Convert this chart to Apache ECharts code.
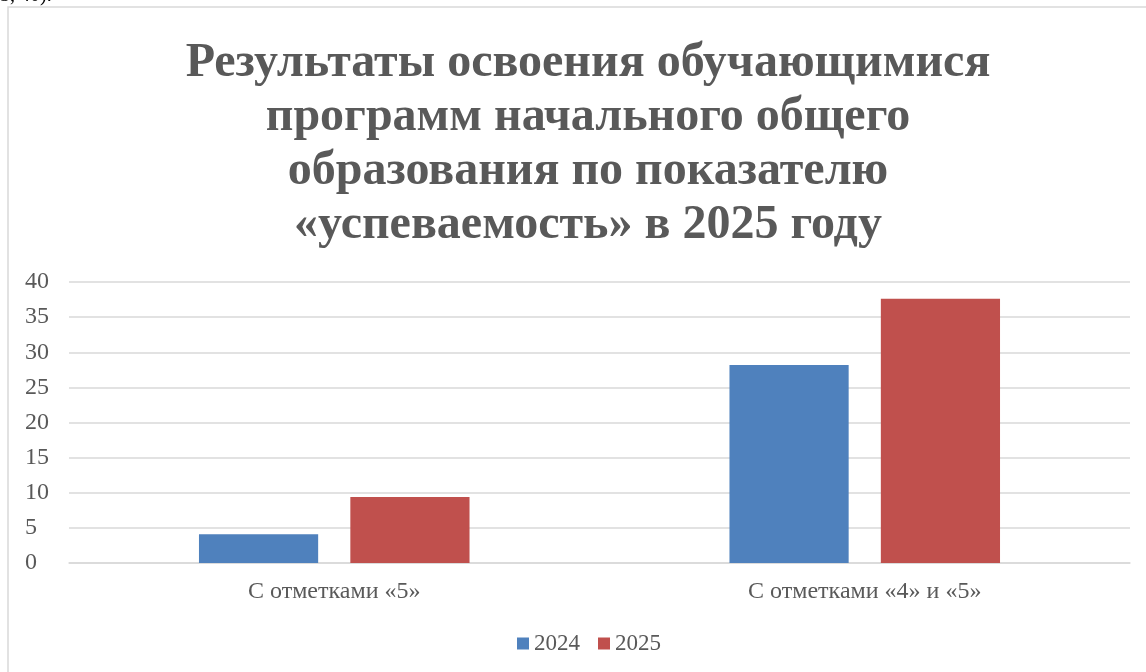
<!DOCTYPE html>
<html>
<head>
<meta charset="utf-8">
<script src="https://cdn.jsdelivr.net/npm/echarts@6/dist/echarts.min.js"></script>
<style>
  html, body { margin: 0; padding: 0; background: #fff; }
  #chart { width: 1146px; height: 672px; }
</style>
</head>
<body>
<div id="chart"></div>
<script>
// данные диаграммы
const categories = ['С отметками «5»', 'С отметками «4» и «5»'];
const seriesNames = ['2024', '2025'];
const values2024 = [4.1, 28.2];
const values2025 = [9.4, 37.6];
const yTicks = { min: 0, max: 40, step: 5 };

const serif = '"Liberation Serif", "DejaVu Serif", serif';
const textGray = '#595959';

const chart = echarts.init(document.getElementById('chart'));

const option = {
  backgroundColor: '#ffffff',
  animation: false,
  textStyle: { fontFamily: serif },
  title: {
    text: 'Результаты освоения обучающимися\nпрограмм начального общего\nобразования по показателю\n«успеваемость» в 2025 году',
    left: 583,
    top: 32,
    textAlign: 'center',
    textStyle: {
      fontFamily: serif,
      fontWeight: 'bold',
      fontSize: 48,
      lineHeight: 54,
      color: textGray
    }
  },
  graphic: [
    {
      type: 'rect',
      shape: { x: 8, y: 7, width: 1300, height: 800 },
      style: { fill: 'none', stroke: '#d9d9d9', lineWidth: 1.5 },
      silent: true
    },
    {
      type: 'text',
      left: 0,
      top: -14,
      style: { text: '5, 40).', fontFamily: serif, fontSize: 20, fill: '#000' },
      silent: true
    }
  ],
  legend: {
    top: 627,
    left: 512,
    itemWidth: 12,
    itemHeight: 12,
    itemGap: 18,
    icon: 'rect',
    textStyle: { fontFamily: serif, fontSize: 23, color: textGray },
    data: seriesNames
  },
  grid: {
    left: 69,
    right: 16,
    top: 282,
    bottom: 109,
    containLabel: false
  },
  xAxis: {
    type: 'category',
    data: categories,
    axisLine: { show: true, lineStyle: { color: '#d9d9d9', width: 1.5 } },
    axisTick: { show: false },
    axisLabel: { fontFamily: serif, fontSize: 24, color: textGray, margin: 17 }
  },
  yAxis: {
    type: 'value',
    min: yTicks.min,
    max: yTicks.max,
    interval: yTicks.step,
    axisLine: { show: false },
    axisTick: { show: false },
    axisLabel: { fontFamily: serif, fontSize: 24, color: textGray, margin: 44, align: 'left' },
    splitLine: { lineStyle: { color: '#d9d9d9', width: 1.5 } }
  },
  series: [
    {
      name: seriesNames[0],
      type: 'bar',
      data: values2024,
      barGap: '27%',
      barCategoryGap: '49%',
      itemStyle: { color: '#4F81BD' }
    },
    {
      name: seriesNames[1],
      type: 'bar',
      data: values2025,
      itemStyle: { color: '#C0504D' }
    }
  ]
};

chart.setOption(option);
</script>
</body>
</html>
